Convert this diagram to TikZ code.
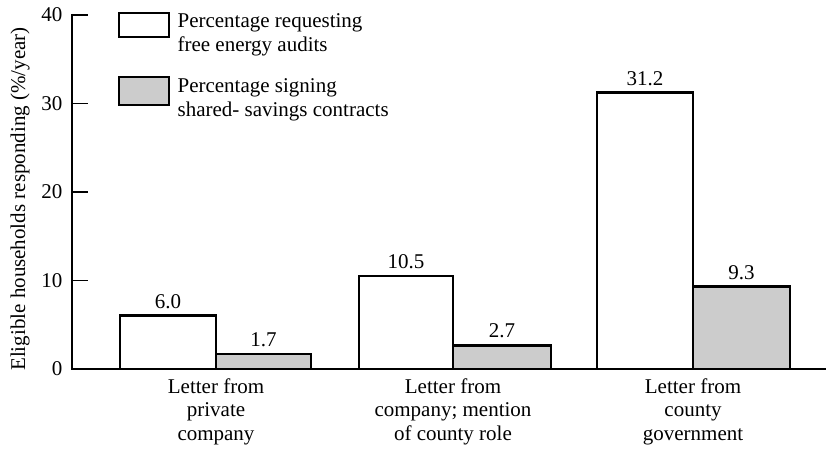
\documentclass[tikz,border=0pt]{standalone}
\usepackage{fontspec}
\setmainfont{Liberation Serif}
\usetikzlibrary{positioning}

\begin{document}
\begin{tikzpicture}[x=1pt,y=1pt,
    bar/.style={draw,line width=2.8pt},
    audit/.style={bar,fill=white},
    saving/.style={bar,fill=black!20},
    txt/.style={font=\fontsize{21}{23.5}\selectfont},
    vallabel/.style={txt,anchor=south,inner sep=2pt,yshift=5pt},
    catlabel/.style={txt,align=center,anchor=north},
    ticklabel/.style={txt,anchor=east},
    legtext/.style={txt,align=left,anchor=north west,inner sep=0pt}]
  \useasboundingbox (0,0) rectangle (828,450);
  % legend
  \node[audit,minimum width=50pt,minimum height=24pt] (legA) at (144,425) {};
  \node[saving,minimum width=50pt,minimum height=28pt] (legB) at (144,359) {};
  \node[legtext] (legAtxt) at ([xshift=7pt,yshift=-2pt]legA.north east) {Percentage requesting\\free energy audits};
  \node[legtext] (legBtxt) at ([xshift=7pt,yshift=-3pt]legB.north east) {Percentage signing\\shared- savings contracts};
  % bars
  \foreach \x/\w/\v/\s/\n in {120/96/6.0/audit/a1, 216/95/1.7/saving/s1,
      359/94/10.5/audit/a2, 453/98/2.7/saving/s2,
      597/96/31.2/audit/a3, 693/97/9.3/saving/s3}{
    \draw[\s] (\x,81) rectangle ++(\w,{8.85*\v});
    \node[vallabel] (v\n) at ({\x+\w/2},{81+8.85*\v}) {\v};
  }
  % axes
  \coordinate (origin) at (72,81);
  \coordinate (ytop) at (72,436);
  \coordinate (xend) at (826,81);
  \draw[line width=1.8pt] (ytop) -- (origin) -- (xend);
  \foreach \v in {10,20,30,40}
    \draw[line width=1.6pt] (72,{81+8.85*\v}) -- ++(16,0);
  \foreach \v in {0,10,...,40}
    \node[ticklabel] (t\v) at (66,{81+8.85*\v}) {\v};
  \node[txt,rotate=90] (ylab) at (20,251) {Eligible households responding (\%/year)};
  % categories
  \node[catlabel] (c1) at (216,75) {Letter from\\private\\company};
  \node[catlabel] (c2) at (453,75) {Letter from\\company; mention\\of county role};
  \node[catlabel] (c3) at (693,75) {Letter from\\county\\government};
\end{tikzpicture}
\end{document}
